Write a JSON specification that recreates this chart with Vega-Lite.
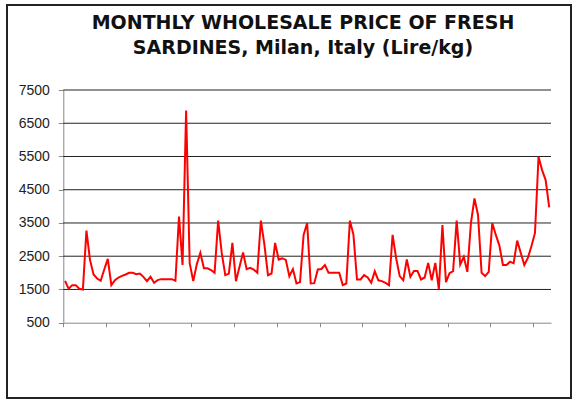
{
  "$schema": "https://vega.github.io/schema/vega-lite/v6.json",
  "width": 564,
  "height": 393,
  "autosize": {"type": "none"},
  "padding": {"left": 7, "top": 5, "right": 1, "bottom": 2},
  "background": "white",
  "config": {"view": {"stroke": "#222", "strokeWidth": 2, "fill": "white"}},
  "title": {
    "text": ["MONTHLY WHOLESALE PRICE OF FRESH", "SARDINES, Milan, Italy (Lire/kg)"],
    "anchor": "middle",
    "frame": "group",
    "offset": -53,
    "dx": 14,
    "font": "DejaVu Sans",
    "fontSize": 19,
    "fontWeight": "bold",
    "color": "#111",
    "lineHeight": 25
  },
  "layer": [
    {
      "data": {"values": [{"g": 1500}, {"g": 2500}, {"g": 3500}, {"g": 4500}, {"g": 5500}, {"g": 6500}, {"g": 7500}]},
      "mark": {"type": "rule", "color": "#222", "strokeWidth": 1},
      "encoding": {
        "y": {
          "field": "g",
          "type": "quantitative",
          "scale": {"domain": [500, 7500], "range": [317.7, 85], "nice": false, "zero": false},
          "axis": {
            "orient": "left",
            "offset": -56.3,
            "values": [500, 1500, 2500, 3500, 4500, 5500, 6500, 7500],
            "format": "d",
            "grid": false,
            "title": null,
            "tickSize": 5,
            "tickColor": "#888",
            "domainColor": "#888",
            "labelFont": "Liberation Sans",
            "labelFontSize": 14,
            "labelColor": "#222",
            "labelPadding": 9
          }
        },
        "x": {
          "datum": -0.5,
          "type": "quantitative",
          "scale": {"domain": [-0.5, 136.5], "range": [56.3, 544], "nice": false, "zero": false},
          "axis": {
            "orient": "bottom",
            "offset": -75.3,
            "values": [-0.5, 5.5, 11.5, 17.5, 23.5, 29.5, 35.5, 41.5, 47.5, 53.5, 59.5, 65.5, 71.5, 77.5, 83.5, 89.5, 95.5, 101.5, 107.5, 113.5, 119.5, 125.5, 131.5],
            "labels": false,
            "grid": false,
            "title": null,
            "tickSize": 4,
            "tickColor": "#888",
            "domainColor": "#888"
          }
        },
        "x2": {"datum": 136.5}
      }
    },
    {
      "data": {"values": [
        {"m":0,"p":1760},{"m":1,"p":1520},{"m":2,"p":1630},{"m":3,"p":1630},{"m":4,"p":1520},{"m":5,"p":1500},{"m":6,"p":3270},{"m":7,"p":2390},{"m":8,"p":1950},{"m":9,"p":1830},
        {"m":10,"p":1760},{"m":11,"p":2100},{"m":12,"p":2420},{"m":13,"p":1630},{"m":14,"p":1780},{"m":15,"p":1860},{"m":16,"p":1910},{"m":17,"p":1950},{"m":18,"p":2000},{"m":19,"p":2000},
        {"m":20,"p":1960},{"m":21,"p":1980},{"m":22,"p":1880},{"m":23,"p":1750},{"m":24,"p":1880},{"m":25,"p":1700},{"m":26,"p":1780},{"m":27,"p":1810},{"m":28,"p":1810},{"m":29,"p":1810},
        {"m":30,"p":1810},{"m":31,"p":1760},{"m":32,"p":3690},{"m":33,"p":2240},{"m":34,"p":6880},{"m":35,"p":2290},{"m":36,"p":1750},{"m":37,"p":2260},{"m":38,"p":2600},{"m":39,"p":2140},
        {"m":40,"p":2135},{"m":41,"p":2085},{"m":42,"p":2000},{"m":43,"p":3570},{"m":44,"p":2600},{"m":45,"p":1930},{"m":46,"p":1975},{"m":47,"p":2900},{"m":48,"p":1750},{"m":49,"p":2180},
        {"m":50,"p":2610},{"m":51,"p":2110},{"m":52,"p":2150},{"m":53,"p":2100},{"m":54,"p":2000},{"m":55,"p":3570},{"m":56,"p":2840},{"m":57,"p":1930},{"m":58,"p":1980},{"m":59,"p":2900},
        {"m":60,"p":2400},{"m":61,"p":2440},{"m":62,"p":2390},{"m":63,"p":1900},{"m":64,"p":2115},{"m":65,"p":1680},{"m":66,"p":1720},{"m":67,"p":3140},{"m":68,"p":3500},{"m":69,"p":1680},
        {"m":70,"p":1690},{"m":71,"p":2100},{"m":72,"p":2115},{"m":73,"p":2235},{"m":74,"p":2005},{"m":75,"p":2005},{"m":76,"p":2005},{"m":77,"p":2005},{"m":78,"p":1630},{"m":79,"p":1680},
        {"m":80,"p":3570},{"m":81,"p":3150},{"m":82,"p":1800},{"m":83,"p":1800},{"m":84,"p":1930},{"m":85,"p":1860},{"m":86,"p":1700},{"m":87,"p":2045},{"m":88,"p":1775},{"m":89,"p":1750},
        {"m":90,"p":1700},{"m":91,"p":1630},{"m":92,"p":3140},{"m":93,"p":2440},{"m":94,"p":1900},{"m":95,"p":1775},{"m":96,"p":2400},{"m":97,"p":1880},{"m":98,"p":2055},{"m":99,"p":2055},
        {"m":100,"p":1800},{"m":101,"p":1860},{"m":102,"p":2300},{"m":103,"p":1775},{"m":104,"p":2300},{"m":105,"p":1510},{"m":106,"p":3440},{"m":107,"p":1720},{"m":108,"p":1990},{"m":109,"p":2050},
        {"m":110,"p":3570},{"m":111,"p":2250},{"m":112,"p":2480},{"m":113,"p":2030},{"m":114,"p":3490},{"m":115,"p":4240},{"m":116,"p":3740},{"m":117,"p":2000},{"m":118,"p":1900},{"m":119,"p":2030},
        {"m":120,"p":3500},{"m":121,"p":3140},{"m":122,"p":2820},{"m":123,"p":2235},{"m":124,"p":2235},{"m":125,"p":2335},{"m":126,"p":2285},{"m":127,"p":2970},{"m":128,"p":2600},{"m":129,"p":2235},
        {"m":130,"p":2450},{"m":131,"p":2800},{"m":132,"p":3200},{"m":133,"p":5490},{"m":134,"p":5090},{"m":135,"p":4790},{"m":136,"p":3970}
      ]},
      "mark": {"type": "line", "color": "#ff0000", "strokeWidth": 2},
      "encoding": {
        "x": {"field": "m", "type": "quantitative"},
        "y": {"field": "p", "type": "quantitative"}
      }
    }
  ]
}
